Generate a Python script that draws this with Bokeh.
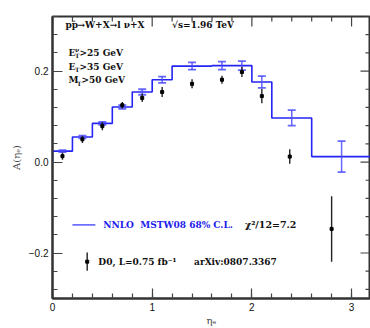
import numpy as np
from bokeh.plotting import figure
from bokeh.models import Range1d, LinearAxis, FixedTicker, Label
from bokeh.embed import file_html
from bokeh.resources import INLINE

# ---- data ----
edges = [0.0, 0.2, 0.4, 0.6, 0.8, 1.0, 1.2, 1.6, 1.8, 2.0, 2.2, 2.6, 3.2]
nnlo = [0.024, 0.055, 0.085, 0.121, 0.154, 0.181, 0.211, 0.212, 0.212, 0.176, 0.097, 0.012]
nnlo_err = [0.002, 0.003, 0.003, 0.004, 0.006, 0.007, 0.008, 0.009, 0.010, 0.013, 0.017, 0.034]
d0_eta = [0.1, 0.3, 0.5, 0.7, 0.9, 1.1, 1.4, 1.7, 1.9, 2.1, 2.38, 2.8]
d0_A = [0.013, 0.050, 0.079, 0.125, 0.141, 0.154, 0.172, 0.181, 0.198, 0.145, 0.012, -0.147]
d0_err = [0.008, 0.008, 0.009, 0.007, 0.009, 0.011, 0.010, 0.009, 0.011, 0.016, 0.016, 0.072]
x_ticks = [0, 1, 2, 3]
y_ticks = [-0.2, 0.0, 0.2]
y_tick_labels = {-0.2: "\u22120.2", 0.0: "0.0", 0.2: "0.2"}

XMIN, XMAX, YMIN, YMAX = 0.0, 3.19, -0.30, 0.32

BLUE = "#2424f4"
BLUE_ERR = "#4c4cff"
SANS = "Liberation Sans"
SERIF = "DejaVu Serif"
AX = "#333333"

p = figure(width=370, height=328, x_range=Range1d(XMIN, XMAX), y_range=Range1d(YMIN, YMAX),
           output_backend="svg", toolbar_location=None,
           min_border_left=52, min_border_right=0, min_border_top=16, min_border_bottom=29,
           x_axis_location=None, y_axis_location=None)
p.grid.visible = False
p.outline_line_color = AX
p.outline_line_width = 2
p.background_fill_color = "white"
p.border_fill_color = "white"

xminor = list(np.round(np.arange(0, 3.2, 0.2), 2))
yminor = list(np.round(np.arange(-0.28, 0.33, 0.04), 2))

def style(ax):
    ax.axis_line_color = AX
    ax.axis_line_width = 2
    ax.major_tick_in = 10
    ax.major_tick_out = 0
    ax.minor_tick_in = 5
    ax.minor_tick_out = 0
    ax.major_tick_line_color = "#444444"
    ax.minor_tick_line_color = "#444444"
    ax.major_tick_line_width = 1.2
    ax.minor_tick_line_width = 1.2
    ax.major_label_text_font = SANS
    ax.major_label_text_font_size = "10px"
    ax.major_label_text_color = "#111111"

xb = LinearAxis(ticker=FixedTicker(ticks=x_ticks, minor_ticks=xminor))
style(xb)
xb.major_label_standoff = 4
xb.axis_label = "\u03b7\u2091"
xb.axis_label_text_font = SERIF
xb.axis_label_text_font_style = "normal"
xb.axis_label_text_font_size = "10px"
xb.axis_label_standoff = 1
p.add_layout(xb, "below")

yl = LinearAxis(ticker=FixedTicker(ticks=y_ticks, minor_ticks=yminor))
style(yl)
yl.major_label_overrides = y_tick_labels
yl.major_label_standoff = 4
yl.axis_label = "A(\u03b7\u2091)"
yl.axis_label_text_font = SERIF
yl.axis_label_text_font_style = "normal"
yl.axis_label_text_font_size = "10px"
yl.axis_label_standoff = 4
p.add_layout(yl, "left")

# mirrored ticks on top and right edges
xmaj_in = [t for t in x_ticks if XMIN <= t <= XMAX]
xmin_in = [t for t in xminor if t not in x_ticks]
ymin_in = [t for t in yminor if round(t, 2) not in [round(v, 2) for v in y_ticks]]
p.ray(x=xmaj_in, y=YMAX, length=10, length_units="screen", angle=-np.pi / 2,
      line_color="#444444", line_width=1.2)
p.ray(x=xmin_in, y=YMAX, length=5, length_units="screen", angle=-np.pi / 2,
      line_color="#444444", line_width=1.2)
p.ray(x=XMAX, y=y_ticks, length=10, length_units="screen", angle=np.pi,
      line_color="#444444", line_width=1.2)
p.ray(x=XMAX, y=ymin_in, length=5, length_units="screen", angle=np.pi,
      line_color="#444444", line_width=1.2)

# ---- NNLO histogram ----
sx = [edges[0]] + edges
sy = [0.0] + nnlo + [nnlo[-1]]
p.step(sx, sy, mode="after", line_color=BLUE, line_width=1.6)

centers = [(a + b) / 2 for a, b in zip(edges[:-1], edges[1:])]
lo = [v - e for v, e in zip(nnlo, nnlo_err)]
hi = [v + e for v, e in zip(nnlo, nnlo_err)]
cap = 0.04
p.segment(centers, lo, centers, hi, line_color=BLUE_ERR, line_width=1.5, line_alpha=0.85)
p.segment([c - cap for c in centers], lo, [c + cap for c in centers], lo,
          line_color=BLUE_ERR, line_width=1.8, line_alpha=0.85)
p.segment([c - cap for c in centers], hi, [c + cap for c in centers], hi,
          line_color=BLUE_ERR, line_width=1.8, line_alpha=0.85)

# ---- D0 data ----
dlo = [v - e for v, e in zip(d0_A, d0_err)]
dhi = [v + e for v, e in zip(d0_A, d0_err)]
p.segment(d0_eta, dlo, d0_eta, dhi, line_color="#222222", line_width=1.4)
p.scatter(d0_eta, d0_A, marker="square", size=3, color="black")

# ---- texts ----
def lab(x, y, text, size="10px", color="#111111", xo=0, yo=0, font=SERIF, style_="bold"):
    p.add_layout(Label(x=x, y=y, x_offset=xo, y_offset=yo, text=text, text_font=font,
                       text_font_size=size, text_color=color, text_baseline="middle",
                       text_align="left", text_font_style=style_))

# p pbar -> W+X -> l nu + X
lab(0.13, 0.301, "pp", size="9px")
lab(0.13, 0.301, "\u2013", size="7px", xo=6.5, yo=5)
lab(0.13, 0.301, "\u2192W+X\u2192l \u03bd+X", size="9px", xo=12)
lab(1.20, 0.301, "\u221as=1.96 TeV", size="9px")

# E_T^nu > 25 GeV
lab(0.16, 0.240, "E", size="9px")
lab(0.16, 0.240, "\u03bd", size="6px", xo=6.5, yo=3)
lab(0.16, 0.240, "T", size="6px", xo=6.5, yo=-3)
lab(0.16, 0.240, ">25 GeV", size="9px", xo=11)
lab(0.16, 0.209, "E", size="9px")
lab(0.16, 0.209, "T", size="6px", xo=6.5, yo=-3)
lab(0.16, 0.209, ">35 GeV", size="9px", xo=11)
lab(0.16, 0.180, "M", size="9px")
lab(0.16, 0.180, "T", size="6px", xo=8.5, yo=-3)
lab(0.16, 0.180, ">50 GeV", size="9px", xo=13)

# legend
p.line([0.20, 0.43], [-0.138, -0.138], line_color="#6f6fff", line_width=1.8)
lab(0.51, -0.138, "NNLO\u00a0\u00a0MSTW08 68% C.L.", size="9px", color="#2020ee")
lab(1.93, -0.138, "\u03c7\u00b2/12=7.2", size="9.5px")
p.segment([0.348], [-0.239], [0.348], [-0.199], line_color="#222222", line_width=1.4)
p.scatter([0.348], [-0.219], marker="square", size=3, color="black")
lab(0.46, -0.219, "D0, L=0.75 fb\u207b\u00b9", size="9px")
lab(1.42, -0.219, "arXiv:0807.3367", size="9px")

open("out.html", "w").write(file_html(p, INLINE))
